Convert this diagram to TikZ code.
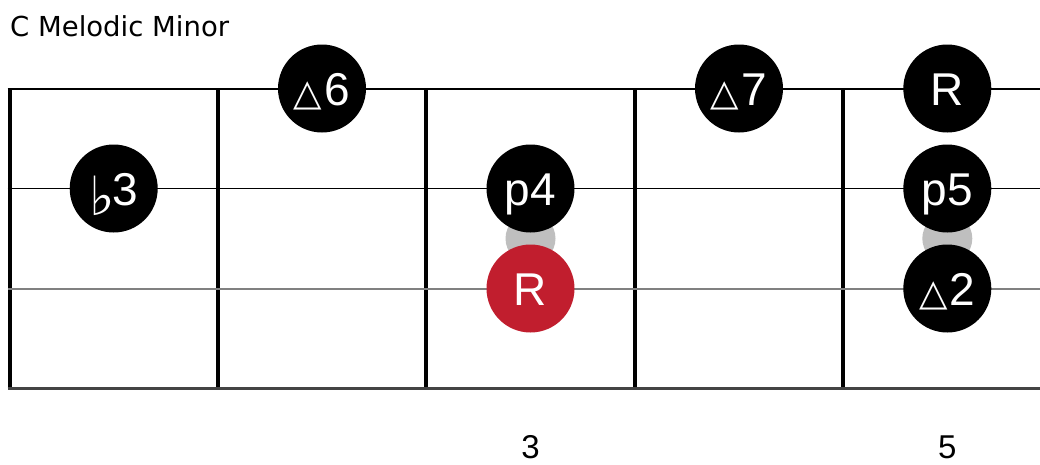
\documentclass[tikz,border=0pt]{standalone}
\usepackage{fontspec}
\setmainfont{Liberation Sans}
\newfontfamily\titlefont{DejaVu Sans}
\newfontfamily\symbfont{DejaVu Sans}
\usetikzlibrary{calc}

\definecolor{rootred}{RGB}{193,30,46}
\definecolor{stringgray}{RGB}{128,128,128}
\definecolor{bassgray}{RGB}{68,68,68}

\newcommand{\tri}{{\symbfont\bfseries\fontsize{37}{37}\selectfont △}\kern2pt}
\newcommand{\flt}{\raisebox{-10pt}{\symbfont\fontsize{54}{54}\selectfont ♭}\kern-2pt}

\tikzset{
	note/.style={circle,fill=black,text=white,minimum size=88pt,inner sep=0pt,
		text height=33pt,text depth=0pt,font=\fontsize{46}{46}\selectfont},
	rootnote/.style={note,fill=rootred},
	ghost/.style={circle,fill=black!25,minimum size=50pt,inner sep=0pt},
	fretnum/.style={anchor=base,inner sep=0pt,font=\fontsize{33}{33}\selectfont}
}

\begin{document}
\begin{tikzpicture}[x=1pt,y=-1pt]
				\useasboundingbox (0,0) rectangle (1040,464);
				
				% Title
				\node[anchor=base west,inner sep=0pt,font=\titlefont\fontsize{27.5}{27.5}\selectfont] (title) at (10,36) {C Melodic Minor};
				
				% Frets
				\foreach \x in {9.5,217.9,426.3,634.7,843.1}
				\draw[line width=4pt] (\x,88.5) -- (\x,388.5);
				
				% Strings
				\foreach \y/\w/\c in {88.5/2/black,188.5/1.5/black,288.5/2/stringgray,388.5/3/bassgray}
				\draw[line width=\w pt,\c] (7.5,\y) -- (1040,\y);
				
				% Stretch marks
				\node[ghost] (g1) at (530.5,238.5) {};
				\node[ghost] (g2) at (947.3,238.5) {};
				
				% Notes
				\node[note] (b3) at (113.7,188.5) {\flt3};
				\node[note] (d6) at (322,88.5) {\tri6};
				\node[note] (p4) at (530.5,188.5) {p4};
				\node[rootnote] (root) at (530.5,288.5) {R};
				\node[note] (d7) at (739,88.5) {\tri7};
				\node[note] (oct) at (947.3,88.5) {R};
				\node[note] (p5) at (947.3,188.5) {p5};
				\node[note] (d2) at (947.3,288.5) {\tri2};
				
				% Fret numbers
				\node[fretnum] (f3) at (530.5,458) {3};
				\node[fretnum] (f5) at (947.3,458) {5};
			\end{tikzpicture}
\end{document}
